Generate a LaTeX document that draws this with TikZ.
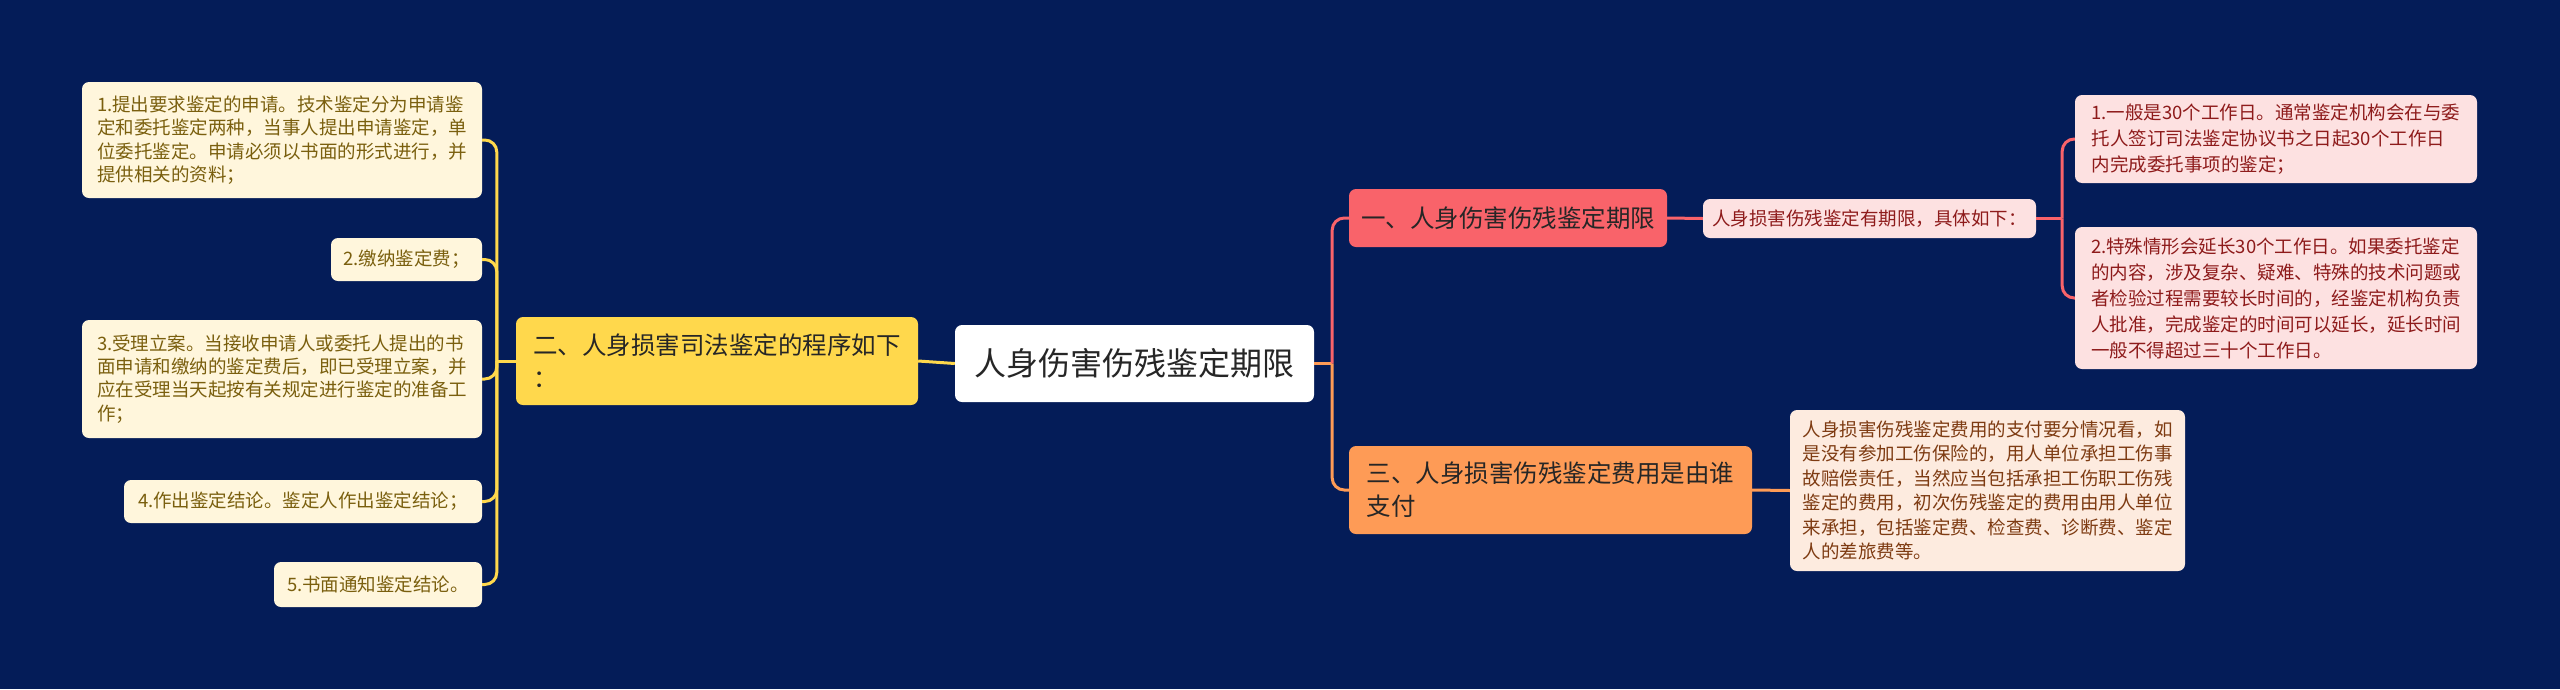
\documentclass[tikz,border=0pt]{standalone}
\usepackage{fontspec}
\setmainfont{Noto Sans CJK SC}
\usetikzlibrary{positioning}
\definecolor{navy}{HTML}{041C58}
\definecolor{butter}{HTML}{FFD84C}
\definecolor{cream}{HTML}{FFF6DC}
\definecolor{olive}{HTML}{7A5F0E}
\definecolor{coral}{HTML}{F9636A}
\definecolor{blush}{HTML}{FDE1E1}
\definecolor{wine}{HTML}{8E1B1B}
\definecolor{apricot}{HTML}{FE9B56}
\definecolor{peach}{HTML}{FDEBDF}
\definecolor{rust}{HTML}{7E3B12}

\begin{document}
\begin{tikzpicture}[
  x=1pt, y=-1pt,
  every node/.style={inner sep=0pt},
  root/.style={fill=white, rounded corners=7pt, minimum width=359pt,
               minimum height=77pt, text=black!85,
               font=\fontsize{32}{38}\selectfont},
  topic/.style={rounded corners=7pt, align=left, text=black!85,
                font=\fontsize{24.5}{33}\selectfont},
  leafl/.style={fill=cream, rounded corners=7pt, align=left, text=olive,
                font=\fontsize{18.5}{23.3}\selectfont},
  leafr/.style={rounded corners=7pt, align=left,
                font=\fontsize{18.5}{26}\selectfont},
  link/.style={line width=3pt, rounded corners=12pt},
]
\fill[navy] (0,0) rectangle (2560,689);
\useasboundingbox (0,0) rectangle (2560,689);

% centre and main topics
\node[root] (root) at (1134.5,363.5) {人身伤害伤残鉴定期限};
\node[topic, fill=butter, minimum width=402pt, minimum height=88pt]
  (proc) at (717,361) {二、人身损害司法鉴定的程序如下\\：};
\node[topic, fill=coral, minimum width=318pt, minimum height=58pt]
  (term) at (1508,218) {一、人身伤害伤残鉴定期限};
\node[topic, fill=apricot, minimum width=403pt, minimum height=88pt]
  (fee) at (1550.5,490) {三、人身损害伤残鉴定费用是由谁\\支付};

% left leaves
\node[leafl, minimum width=400pt, minimum height=116pt] (s1) at (282,140)
  {1.提出要求鉴定的申请。技术鉴定分为申请鉴\\定和委托鉴定两种，当事人提出申请鉴定，单\\位委托鉴定。申请必须以书面的形式进行，并\\提供相关的资料；};
\node[leafl, minimum width=151pt, minimum height=43pt] (s2) at (406.5,259.5)
  {2.缴纳鉴定费；};
\node[leafl, minimum width=400pt, minimum height=118pt] (s3) at (282,379)
  {3.受理立案。当接收申请人或委托人提出的书\\面申请和缴纳的鉴定费后，即已受理立案，并\\应在受理当天起按有关规定进行鉴定的准备工\\作；};
\node[leafl, minimum width=358pt, minimum height=43pt] (s4) at (303,501.5)
  {4.作出鉴定结论。鉴定人作出鉴定结论；};
\node[leafl, minimum width=208pt, minimum height=45pt] (s5) at (378,584.5)
  {5.书面通知鉴定结论。};

% right leaves
\node[leafr, fill=blush, text=wine, minimum width=333pt, minimum height=39pt]
  (rule) at (1869.5,218.5) {人身损害伤残鉴定有期限，具体如下：};
\node[leafr, fill=blush, text=wine, minimum width=402pt, minimum height=88pt]
  (t1) at (2276,139)
  {1.一般是30个工作日。通常鉴定机构会在与委\\托人签订司法鉴定协议书之日起30个工作日\\内完成委托事项的鉴定；};
\node[leafr, fill=blush, text=wine, minimum width=402pt, minimum height=142pt]
  (t2) at (2276,298)
  {2.特殊情形会延长30个工作日。如果委托鉴定\\的内容，涉及复杂、疑难、特殊的技术问题或\\者检验过程需要较长时间的，经鉴定机构负责\\人批准，完成鉴定的时间可以延长，延长时间\\一般不得超过三十个工作日。};
\node[leafr, fill=peach, text=rust, minimum width=395pt, minimum height=161pt,
      font=\fontsize{18.5}{24.5}\selectfont] (pay) at (1987.5,490.5)
  {人身损害伤残鉴定费用的支付要分情况看，如\\是没有参加工伤保险的，用人单位承担工伤事\\故赔偿责任，当然应当包括承担工伤职工伤残\\鉴定的费用，初次伤残鉴定的费用由用人单位\\来承担，包括鉴定费、检查费、诊断费、鉴定\\人的差旅费等。};

% connectors
\coordinate (jl) at ([xshift=-19pt]proc.west);
\coordinate (jr) at ([xshift=18pt]root.east);
\coordinate (jt) at ([xshift=26pt]rule.east);

\draw[link, draw=butter] (root.west) -- (proc.east);
\draw[link, draw=butter] (proc.west) -- (jl);
\foreach \s in {s1,s2,s3,s4,s5}
  \draw[link, draw=butter] (jl) |- (\s.east);

\draw[link, draw=apricot] (root.east) -- (jr);
\draw[link, draw=coral] (jr) |- (term.west);
\draw[link, draw=apricot] (jr) |- (fee.west);
\draw[link, draw=coral] (term.east) -- (rule.west);
\draw[link, draw=apricot] (fee.east) -- (pay.west);
\draw[link, draw=coral] (rule.east) -- (jt);
\foreach \t in {t1,t2}
  \draw[link, draw=coral] (jt) |- (\t.west);
\end{tikzpicture}
\end{document}
